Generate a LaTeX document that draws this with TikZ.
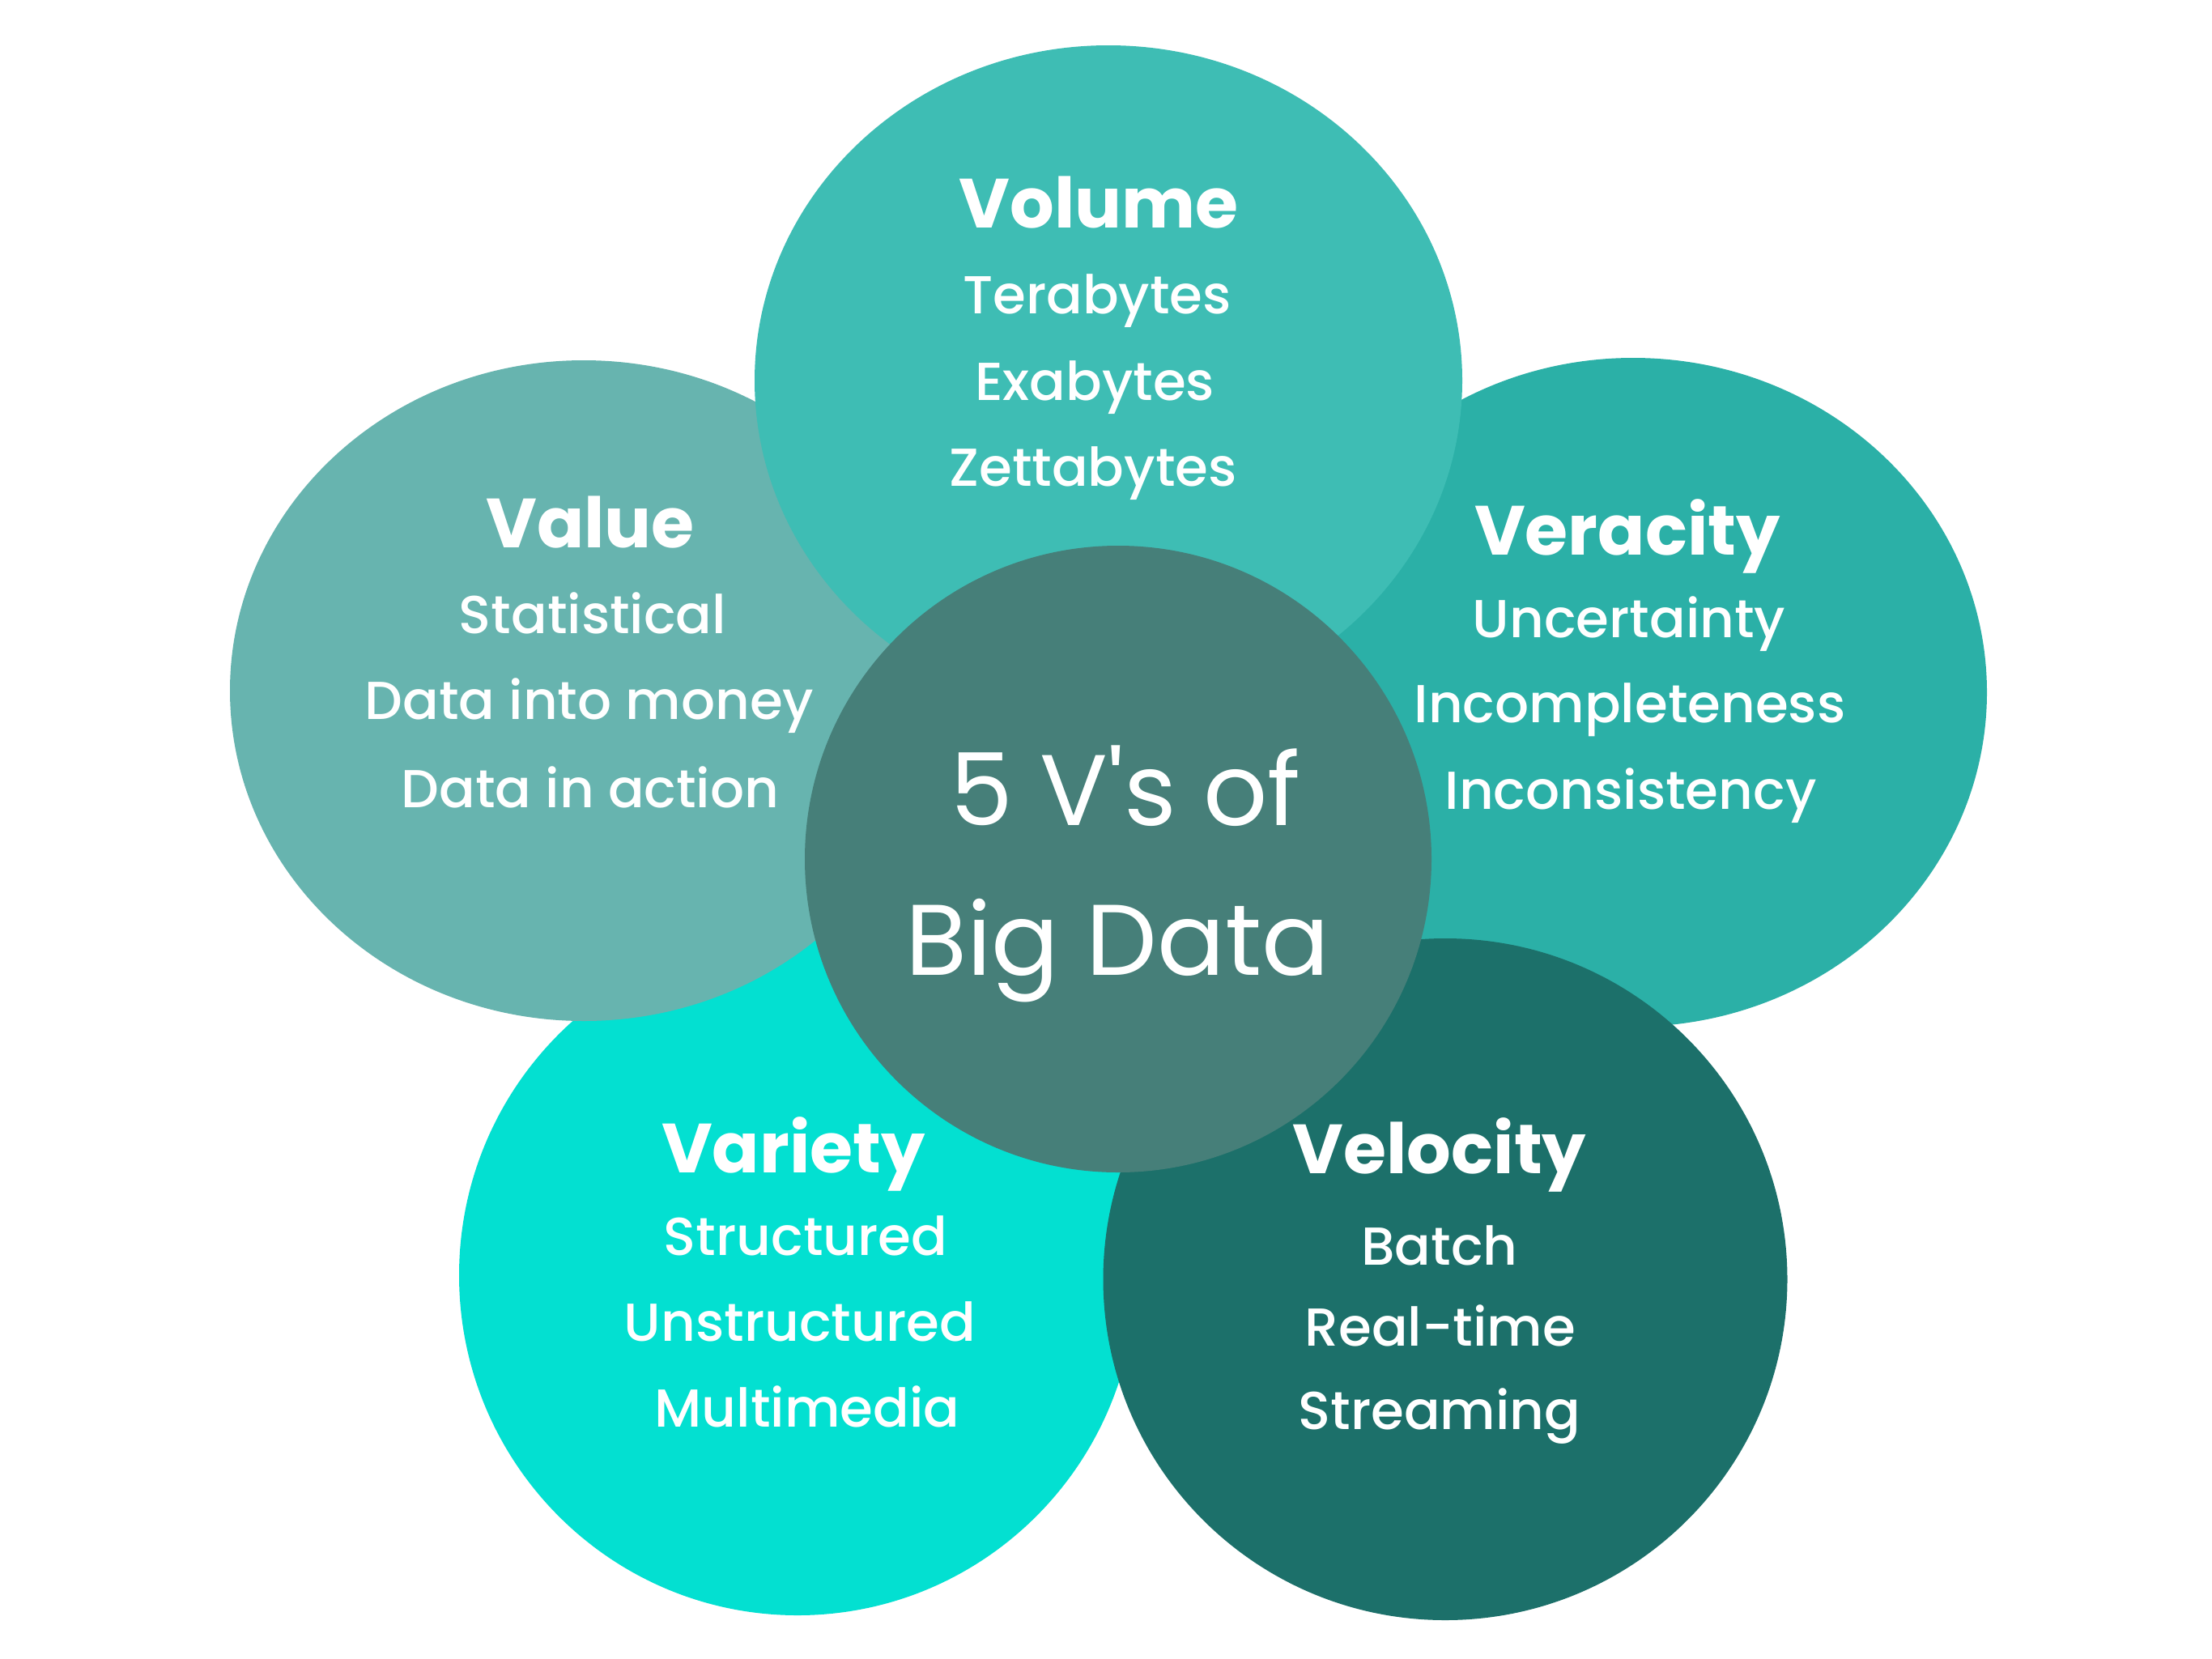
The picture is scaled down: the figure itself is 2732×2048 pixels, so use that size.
\documentclass[tikz,border=0pt]{standalone}
\usepackage{fontspec}
\setmainfont{Poppins}
\newfontfamily\itemfont{Poppins Medium}
\newfontfamily\hubfont{Poppins}[Ligatures=TeXOff]
\usetikzlibrary{shapes.geometric}

\definecolor{volumec}{HTML}{3EBDB4}
\definecolor{valuec}{HTML}{67B4AF}
\definecolor{veracityc}{HTML}{2BB0A7}
\definecolor{varietyc}{HTML}{03E0D1}
\definecolor{velocityc}{HTML}{1C706A}
\definecolor{hubc}{HTML}{467F79}

\begin{document}
\begin{tikzpicture}[x=1pt,y=-1pt,
  blob/.style={ellipse, inner sep=0pt, draw=none},
  vtitle/.style={anchor=base, text=white, inner sep=0pt,
    font=\fontsize{86}{86}\selectfont\bfseries},
  vitem/.style={anchor=base, text=white, inner sep=0pt,
    font=\itemfont\fontsize{66}{66}\selectfont},
  hubtext/.style={anchor=base, text=white, inner sep=0pt,
    font=\hubfont\fontsize{124}{124}\selectfont}]

% canvas
\fill[white] (0,0) rectangle (2732,2048);
\useasboundingbox (0,0) rectangle (2732,2048);

% the five petals, back to front, then the hub
\node[blob, fill=varietyc,  minimum width=836pt, minimum height=840pt] (variety)  at (985,1575) {};
\node[blob, fill=valuec,    minimum width=874pt, minimum height=816pt] (value)    at (721,853) {};
\node[blob, fill=veracityc, minimum width=874pt, minimum height=826pt] (veracity) at (2017,855) {};
\node[blob, fill=velocityc, minimum width=845pt, minimum height=842pt] (velocity) at (1785,1580) {};
\node[blob, fill=volumec,   minimum width=874pt, minimum height=828pt] (volume)   at (1369,470) {};
\node[circle, fill=hubc, minimum size=774pt, inner sep=0pt] (hub) at (1381,1061) {};

% Volume
\node[vtitle] (volT)  at (1357,281) {Volume};
\node[vitem]  (volA)  at (1355,387) {Terabytes};
\node[vitem]  (volB)  at (1352,494) {Exabytes};
\node[vitem]  (volC)  at (1350,600) {Zettabytes};

% Value
\node[vtitle] (valT)  at (729,676) {Value};
\node[vitem]  (valA)  at (732,782) {Statistical};
\node[vitem]  (valB)  at (728,888) {Data into money};
\node[vitem]  (valC)  at (729,997) {Data in action};

% Veracity
\node[vtitle] (verT)  at (2010,685) {Veracity};
\node[vitem]  (verA)  at (2012,787) {Uncertainty};
\node[vitem]  (verB)  at (2013,892) {Incompleteness};
\node[vitem]  (verC)  at (2014,999) {Inconsistency};

% Variety
\node[vtitle] (varT)  at (980,1448) {Variety};
\node[vitem]  (varA)  at (995,1550) {Structured};
\node[vitem]  (varB)  at (988,1656) {Unstructured};
\node[vitem]  (varC)  at (997,1762) {Multimedia};

% Velocity
\node[vtitle] (velT)  at (1778,1449) {Velocity};
\node[vitem]  (velA)  at (1778,1562) {Batch};
\node[vitem]  (velB)  at (1779,1662) {Real-time};
\node[vitem]  (velC)  at (1778,1765) {Streaming};

% hub caption
\node[hubtext] (hubA) at (1390,1019) {5 V's of};
\node[hubtext] (hubB) at (1380,1204) {Big Data};
\end{tikzpicture}
\end{document}
